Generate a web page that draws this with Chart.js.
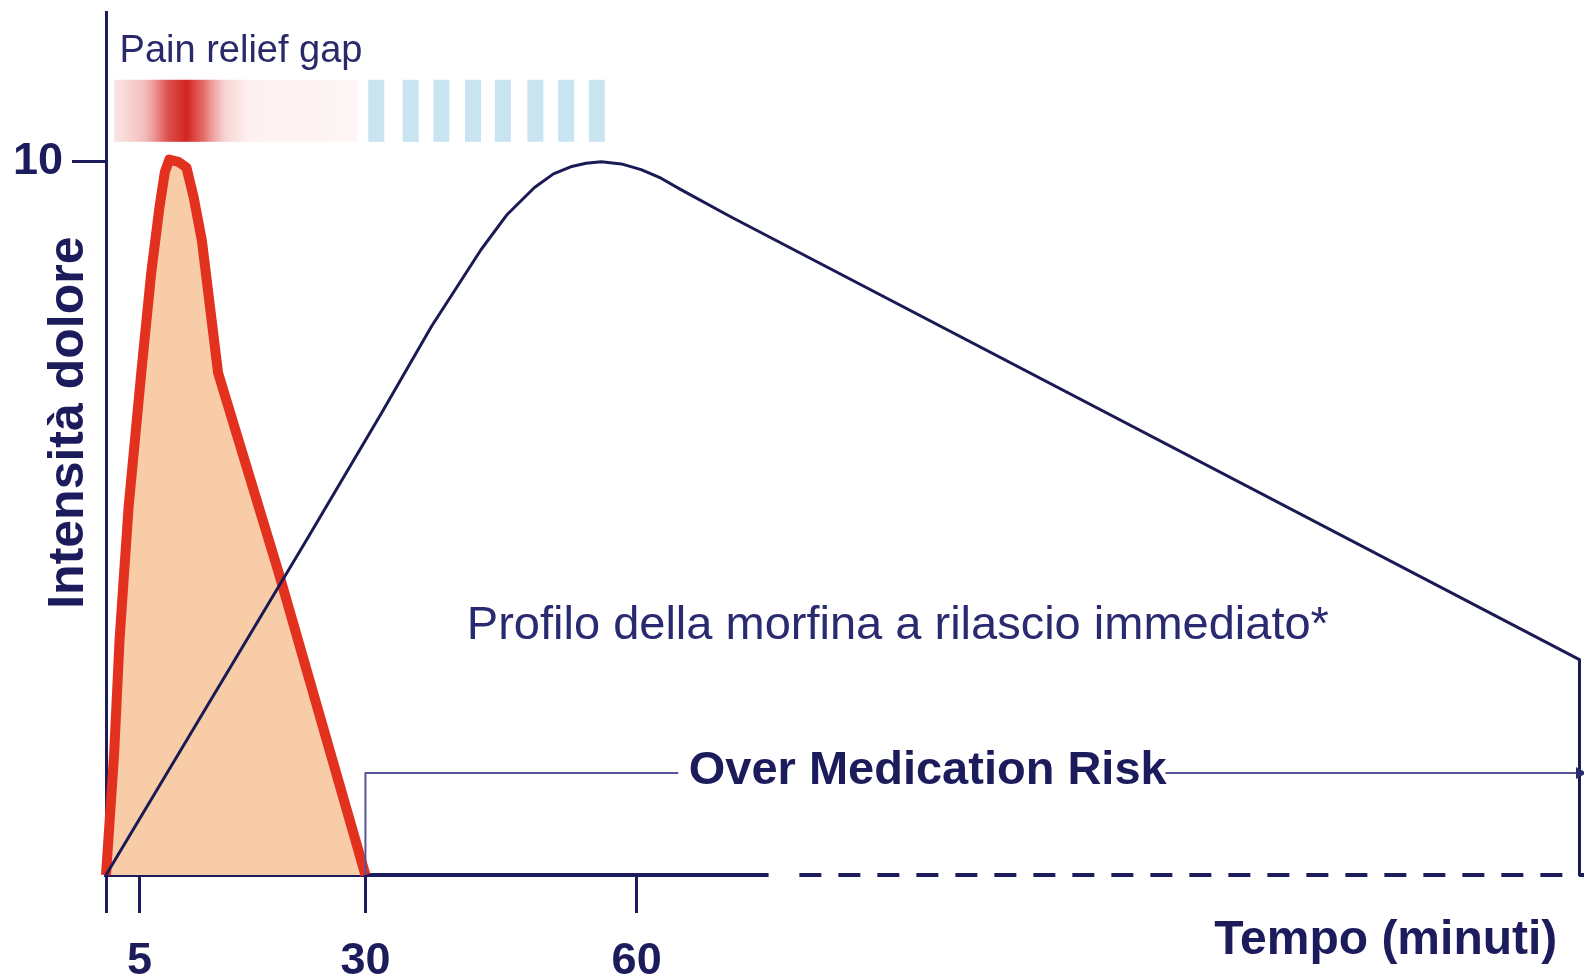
<!DOCTYPE html>
<html>
<head>
<meta charset="utf-8">
<script src="https://cdn.jsdelivr.net/npm/chart.js@4.4.1/dist/chart.umd.min.js"></script>
<style>
  html, body { margin: 0; padding: 0; background: #fff; }
  #wrap { width: 1584px; height: 980px; }
</style>
</head>
<body>
<div id="wrap"><canvas id="painChart"></canvas></div>
<script>
// axis ranges and ticks (minutes / pain intensity)
const timeRange = [1.3, 164.8];
const painRange = [0, 12.1];
const xTickValues = [1.3, 5, 30, 60];
const xTickLabels = ["", "5", "30", "60"];
const yTickValues = [10];
const yTickLabels = ["10"];

// breakthrough pain episode (red)
const episodeTimes = [1.3, 2.2, 2.8, 3.8, 5.2, 6.3, 7.2, 7.8, 8.3, 9.3, 10.2, 11.0, 11.9, 13.7, 20.4, 30.0];
const episodeLevels = [0, 1.7, 3.3, 5.16, 7.04, 8.44, 9.35, 9.85, 10.03, 10.0, 9.92, 9.5, 8.9, 7.04, 4.24, 0];

// immediate release morphine profile (blue)
const morphineTimes = [1.3, 23.5, 31.8, 37.3, 42.8, 45.6, 48.7, 50.8, 52.7, 54.4, 56.1, 58.3, 60.5, 62.7, 64.9, 70.4, 164.3, 164.3];
const morphineLevels = [0, 4.7, 6.48, 7.69, 8.77, 9.25, 9.64, 9.83, 9.93, 9.98, 10.0, 9.97, 9.89, 9.77, 9.61, 9.23, 3.02, 0];

// "pain relief gap" bar and stripes
const gapBarTimes = [2.2, 29.1];
const gapBarLevels = [10.28, 11.15];
const gapPeakTime = 10.2;
const stripeTimes = [31.2, 35.0, 38.4, 41.9, 45.2, 48.8, 52.2, 55.6];

// over medication risk bracket
const riskBracketTimes = [30, 30, 64.6];
const riskBracketLevels = [0, 1.43, 1.43];
const riskArrowTimes = [118.5, 164.3];
const riskArrowLevels = [1.43, 1.43];

// x axis: solid part then dashed part
const axisSolidTimes = [1.3, 74.6];
const axisDashedTimes = [78.0, 164.8];

const NAVY = "#1c1c5c";
const FONT = "'Liberation Sans', Arial, sans-serif";

const textLabels = [
  { text: "Pain relief gap", time: 2.8, level: 11.54, align: "left", font: "38px " + FONT, color: "#2a2a6a" },
  { text: "Profilo della morfina a rilascio immediato*", time: 88.9, level: 3.49, align: "center", font: "47px " + FONT, color: "#2a2a70" },
  { text: "Over Medication Risk", time: 92.2, level: 1.46, align: "center", font: "bold 47px " + FONT, color: NAVY },
];

function toPoints(xs, ys) {
  return xs.map((t, i) => ({ x: t, y: ys[i] }));
}

const overlays = {
  id: "overlays",
  beforeDatasetsDraw(chart) {
    const { ctx, scales: { x, y } } = chart;
    ctx.save();
    // pain relief gap: red fading band, then pale blue stripes
    const gx0 = x.getPixelForValue(gapBarTimes[0]);
    const gx1 = x.getPixelForValue(gapBarTimes[1]);
    const gyTop = y.getPixelForValue(gapBarLevels[1]);
    const gyBot = y.getPixelForValue(gapBarLevels[0]);
    const peak = (x.getPixelForValue(gapPeakTime) - gx0) / (gx1 - gx0);
    const grad = ctx.createLinearGradient(gx0, 0, gx1, 0);
    grad.addColorStop(0, "rgba(238,150,150,0.25)");
    grad.addColorStop(peak - 0.17, "rgba(232,120,120,0.5)");
    grad.addColorStop(peak - 0.08, "rgba(216,52,48,0.85)");
    grad.addColorStop(peak, "rgba(210,36,30,1)");
    grad.addColorStop(peak + 0.07, "rgba(222,70,66,0.8)");
    grad.addColorStop(peak + 0.16, "rgba(242,160,160,0.45)");
    grad.addColorStop(peak + 0.26, "rgba(250,214,214,0.35)");
    grad.addColorStop(1, "rgba(252,226,226,0.35)");
    ctx.fillStyle = grad;
    ctx.fillRect(gx0, gyTop, gx1 - gx0, gyBot - gyTop);

    ctx.fillStyle = "#c9e4f1";
    stripeTimes.forEach(t => {
      const cx = x.getPixelForValue(t);
      ctx.fillRect(cx - 8, gyTop, 16, gyBot - gyTop);
    });

    // time axis line
    const ay = y.getPixelForValue(0);
    ctx.strokeStyle = NAVY;
    ctx.lineWidth = 4;
    ctx.beginPath();
    ctx.moveTo(x.getPixelForValue(axisSolidTimes[0]) - 2, ay);
    ctx.lineTo(x.getPixelForValue(axisSolidTimes[1]), ay);
    ctx.stroke();
    ctx.setLineDash([22, 17]);
    ctx.beginPath();
    ctx.moveTo(x.getPixelForValue(axisDashedTimes[0]), ay);
    ctx.lineTo(x.getPixelForValue(axisDashedTimes[1]), ay);
    ctx.stroke();
    ctx.restore();
  },
  afterDatasetsDraw(chart) {
    const { ctx, scales: { x, y } } = chart;
    ctx.save();
    ctx.textBaseline = "middle";
    textLabels.forEach(l => {
      ctx.font = l.font;
      ctx.fillStyle = l.color;
      ctx.textAlign = l.align;
      ctx.fillText(l.text, x.getPixelForValue(l.time), y.getPixelForValue(l.level));
    });
    ctx.restore();
  }
};

const ctx = document.getElementById("painChart").getContext("2d");
new Chart(ctx, {
  type: "line",
  data: {
    datasets: [
      {
        label: "Episodio di dolore",
        data: toPoints(episodeTimes, episodeLevels),
        borderColor: "#e2321f",
        borderWidth: 10,
        borderJoinStyle: "round",
        backgroundColor: "#f8cca6",
        fill: "origin",
        clip: false,
        order: 2,
      },
      {
        label: "Morfina a rilascio immediato",
        data: toPoints(morphineTimes, morphineLevels),
        borderColor: "#1a1a55",
        borderWidth: 3,
        borderJoinStyle: "round",
        fill: false,
        clip: false,
        order: 1,
      },
      {
        label: "Over medication bracket",
        data: toPoints(riskBracketTimes, riskBracketLevels),
        borderColor: "#55559a",
        borderWidth: 2,
        fill: false,
        clip: false,
        order: 0,
      },
      {
        label: "Over medication arrow",
        data: toPoints(riskArrowTimes, riskArrowLevels),
        borderColor: "#55559a",
        backgroundColor: "#2a2a70",
        borderWidth: 2,
        pointRadius: [0, 7],
        pointStyle: "triangle",
        rotation: 90,
        pointBorderWidth: 0,
        fill: false,
        clip: false,
        order: 0,
      },
    ],
  },
  options: {
    responsive: true,
    maintainAspectRatio: false,
    animation: false,
    layout: { autoPadding: false, padding: { top: 12, right: 0, bottom: 0, left: 0 } },
    elements: { point: { radius: 0 }, line: { tension: 0 } },
    plugins: {
      legend: { display: false },
      tooltip: { enabled: false },
    },
    scales: {
      x: {
        type: "linear",
        min: timeRange[0],
        max: timeRange[1],
        afterBuildTicks: s => { s.ticks = xTickValues.map(v => ({ value: v })); },
        afterFit: s => {
          s.height = 105;
          s.paddingLeft = 0;
          s.paddingRight = 0;
        },
        ticks: {
          callback: (v, i) => xTickLabels[i],
          color: NAVY,
          font: { family: FONT, size: 45, weight: "bold" },
          padding: 22,
          maxRotation: 0,
          autoSkip: false,
        },
        grid: { drawOnChartArea: false, drawTicks: true, tickLength: 38, color: NAVY, lineWidth: 3 },
        border: { display: false },
        title: {
          display: true,
          text: "Tempo (minuti)  ",
          align: "end",
          color: NAVY,
          font: { family: FONT, size: 48, weight: "bold" },
          padding: { top: 0, bottom: 10 },
        },
      },
      y: {
        type: "linear",
        min: painRange[0],
        max: painRange[1],
        afterBuildTicks: s => { s.ticks = yTickValues.map(v => ({ value: v })); },
        afterFit: s => {
          s.width = 106;
          s.paddingTop = 0;
          s.paddingBottom = 0;
        },
        ticks: {
          callback: (v, i) => yTickLabels[i],
          color: NAVY,
          font: { family: FONT, size: 45, weight: "bold" },
          padding: 9,
        },
        grid: { drawOnChartArea: false, drawTicks: true, tickLength: 34, color: NAVY, lineWidth: 3 },
        border: { display: true, color: NAVY, width: 3 },
        title: {
          display: true,
          text: "   Intensità dolore",
          color: NAVY,
          font: { family: FONT, size: 50, weight: "bold" },
          padding: { top: 39, bottom: 0 },
        },
      },
    },
  },
  plugins: [overlays],
});
</script>
</body>
</html>
